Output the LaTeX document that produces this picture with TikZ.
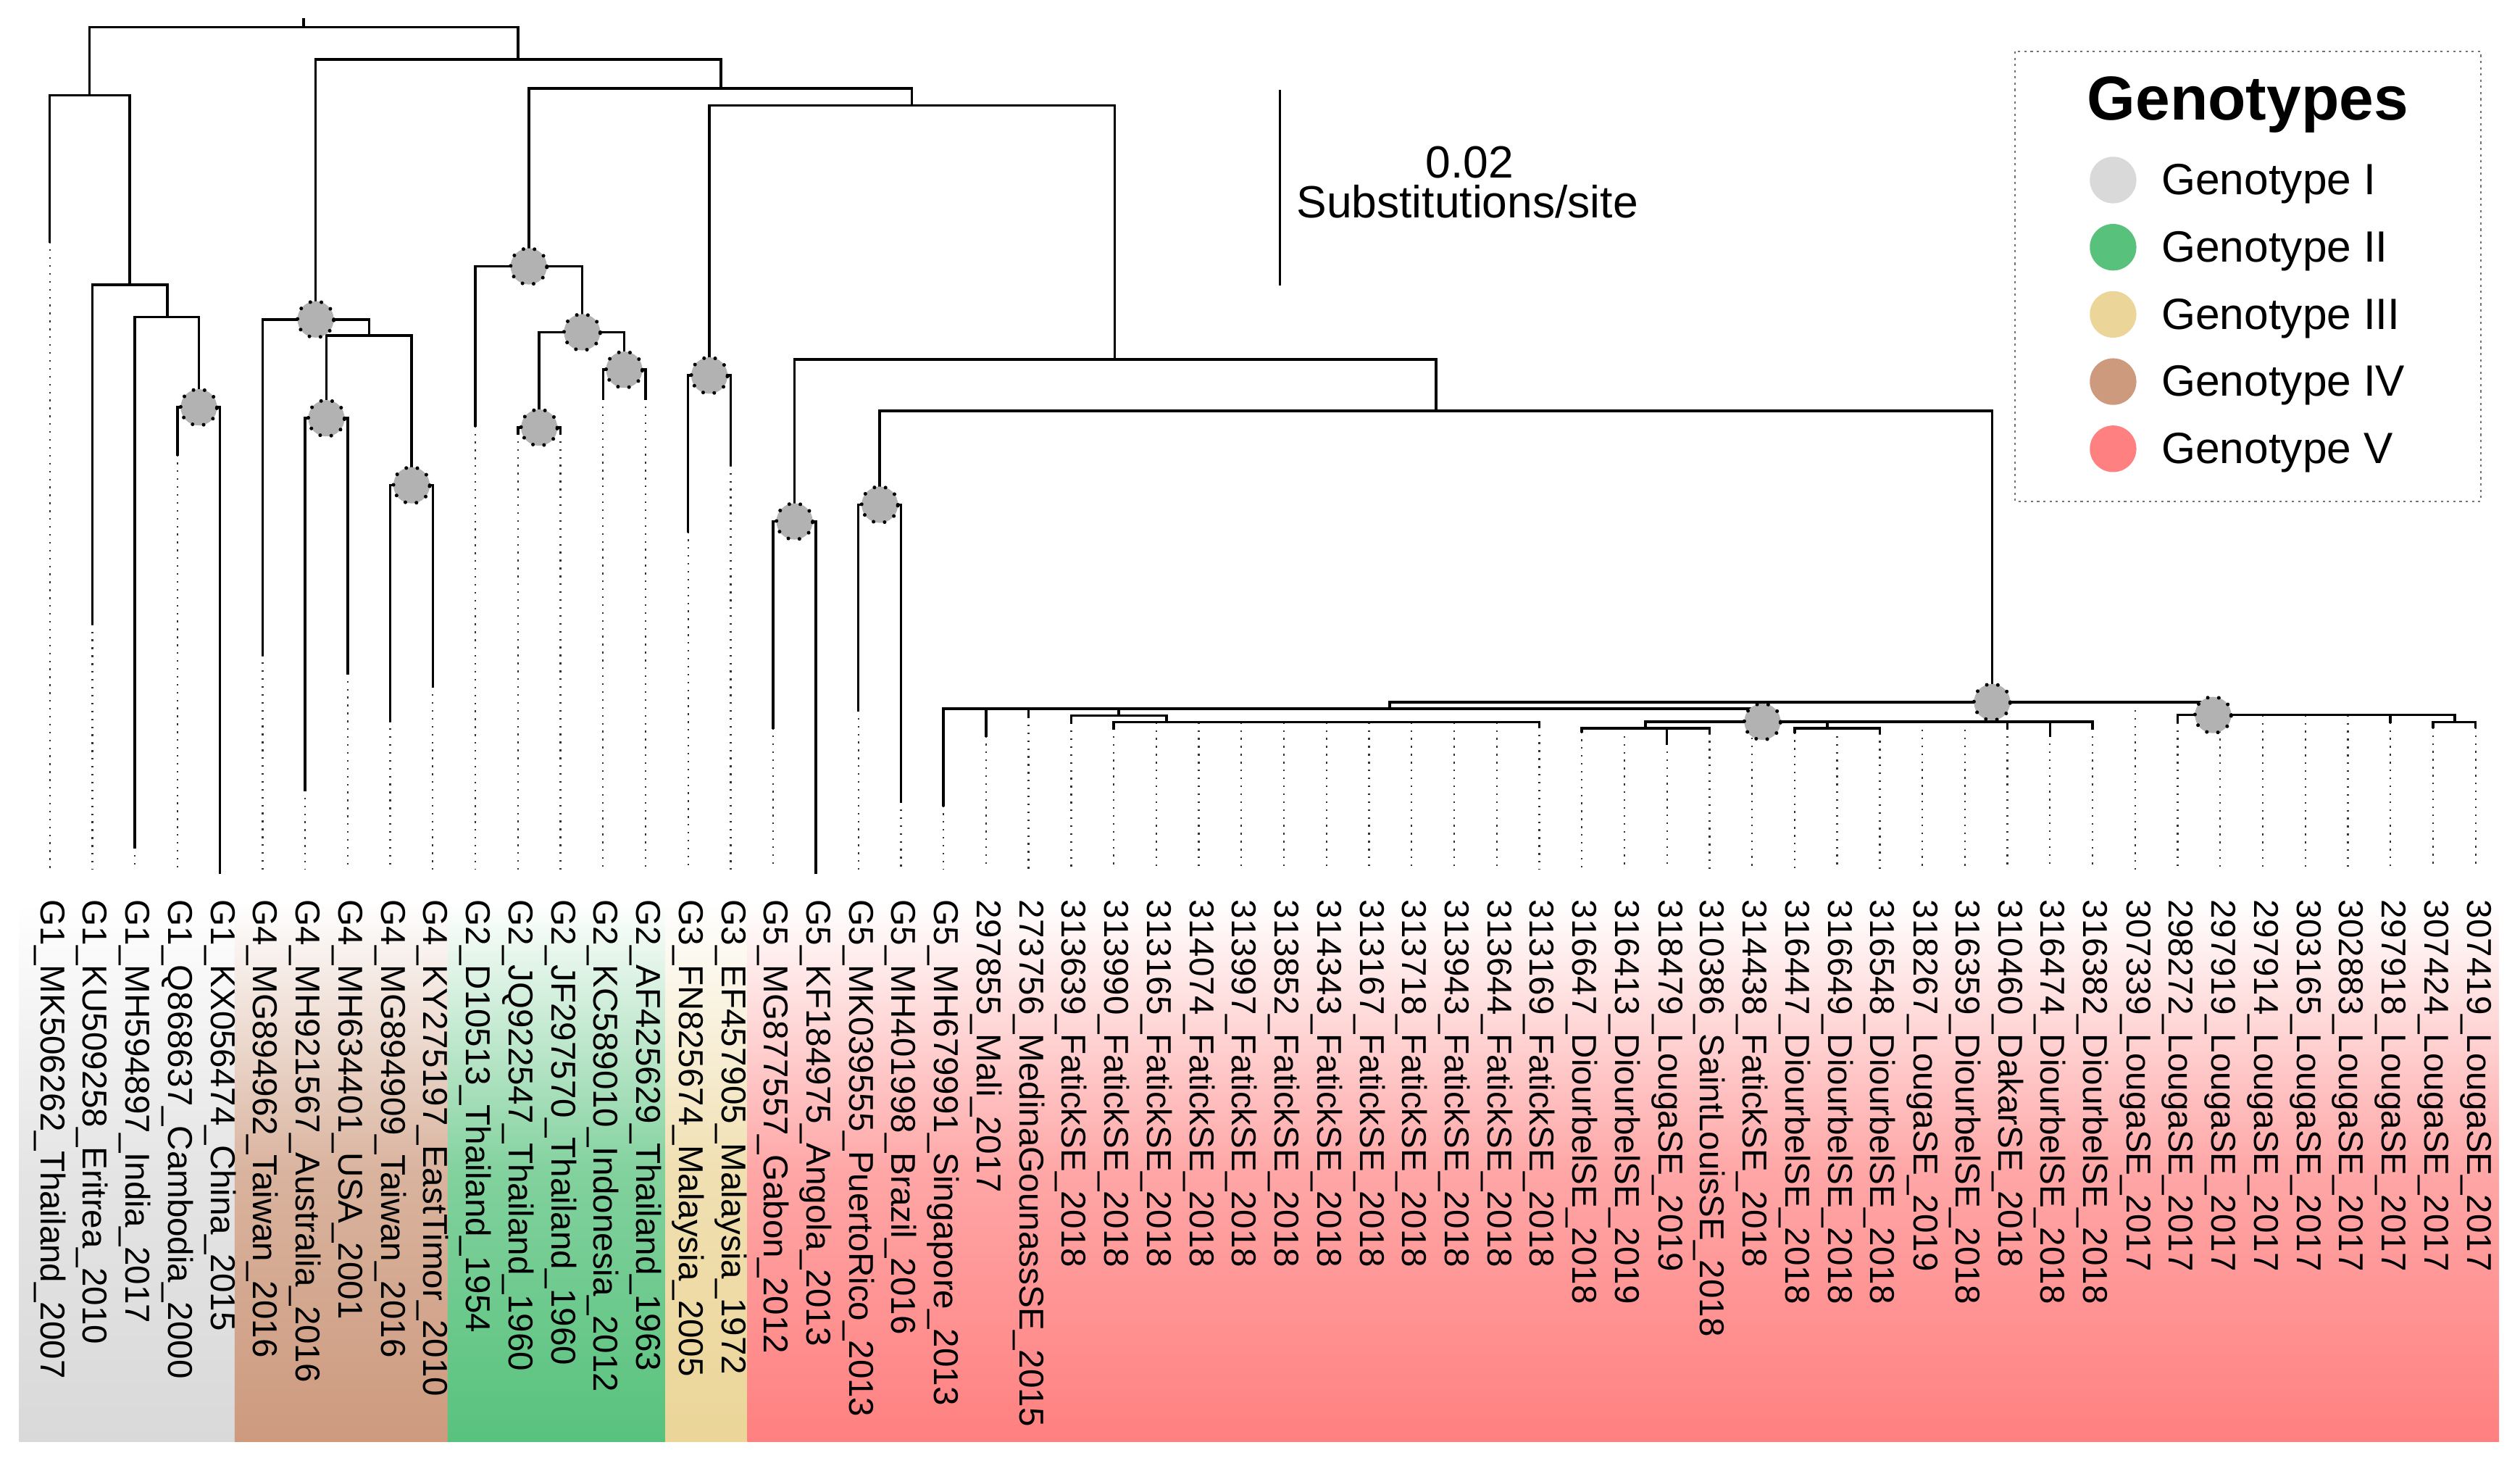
\documentclass[tikz,border=0pt]{standalone}
\usepackage{fontspec}
\setmainfont{Liberation Sans}
\usetikzlibrary{positioning}

\definecolor{gtI}{RGB}{217,217,217}
\definecolor{gtII}{RGB}{88,194,125}
\definecolor{gtIII}{RGB}{235,213,152}
\definecolor{gtIV}{RGB}{205,154,126}
\definecolor{gtV}{RGB}{255,128,128}
\def\unit{0.02}

\begin{document}
\begin{tikzpicture}[x=\unit cm, y=-\unit cm,
    branch/.style={line width=0.9pt, line cap=rect},
    trail/.style={line width=0.6pt, black!80, dash pattern=on 0.6pt off 2.2pt},
    support/.style={circle, minimum size=0.452cm, inner sep=0pt, fill=black!30, draw=black,
      line width=1.3pt, line cap=round, dash pattern=on 0pt off 4pt},
    tiplabel/.style={rotate=-90, anchor=west, inner sep=0pt, xshift=-0.07cm,
      font=\fontsize{12.2}{14}\selectfont},
    legendframe/.style={draw=black!55, line width=0.6pt, dash pattern=on 0.8pt off 1.4pt},
    legdot/.style={circle, minimum size=0.58cm, inner sep=0pt},
    legtext/.style={inner sep=0pt, font=\fontsize{15.5}{18}\selectfont}]
  \useasboundingbox (0,0) rectangle (1568,907);

  \shade[top color=white, bottom color=gtI, middle color=gtI!70] (12,561) rectangle (146,897);
  \shade[top color=white, bottom color=gtIV, middle color=gtIV!75] (146,561) rectangle (278.5,897);
  \shade[top color=white, bottom color=gtII, middle color=gtII!75] (278.5,561) rectangle (414,897);
  \shade[top color=white, bottom color=gtIII, middle color=gtIII!75] (414,561) rectangle (465,897);
  \shade[top color=white, bottom color=gtV, middle color=gtV!70] (465,561) rectangle (1555,897);

  \coordinate (trailend) at (0,541);
  \coordinate (labtop) at (0,563);

  \foreach \i/\y in {0/150.2, 1/388, 2/527, 3/282.8, 4/543, 5/407.2, 6/491.3, 7/418.7, 8/448.2,
      9/427, 10/264.9, 11/269.5, 12/269.5, 13/248, 14/248, 15/330.6, 16/289.3, 17/452.7,
      18/543, 19/441.7, 20/498.6, 21/501, 22/457.7, 23/445.8, 24/449.5, 25/453, 26/449.3,
      27/449.3, 28/449.3, 29/449.3, 30/449.3, 31/449.3, 32/449.3, 33/449.3, 34/449.3,
      35/452, 36/455, 37/453, 38/462.5, 39/456, 40/449, 41/455.5, 42/453, 43/456, 44/449,
      45/449, 46/453, 47/457.6, 48/453, 49/436.8, 50/449.3, 51/444.8, 52/444.8, 53/444.8,
      54/444.8, 55/449.3, 56/452.5, 57/452.5}
    \coordinate (t\i) at ({30.97+26.48*\i}, \y);

  \coordinate (rootstub) at (189,11.9);
  \coordinate (root) at (189,16.9);
  \coordinate (g1) at (55.7,59.3);
  \coordinate (g1a) at (80.7,177.2);
  \coordinate (g1b) at (104.1,197.3);
  \coordinate (g1c) at (123.7,253.4);
  \coordinate (rest) at (322.3,37);
  \coordinate (g4) at (196.4,198.7);
  \coordinate (g4a) at (229.6,208.8);
  \coordinate (g4b) at (203.1,260.2);
  \coordinate (g4c) at (256.1,301.9);
  \coordinate (core) at (448.5,55);
  \coordinate (g2) at (329,165.7);
  \coordinate (g2a) at (362.2,206.7);
  \coordinate (g2b) at (335.5,266);
  \coordinate (g2c) at (388.4,230);
  \coordinate (g35) at (567.3,65.6);
  \coordinate (g3) at (441.4,233.6);
  \coordinate (g5) at (693.6,223.6);
  \coordinate (g5a) at (494.4,324.4);
  \coordinate (g5b) at (893.6,255.7);
  \coordinate (g5c) at (547.4,314);
  \coordinate (sen) at (1239.5,436.8);
  \coordinate (sa) at (864.7,440.9);
  \coordinate (sd) at (696.1,445.1);
  \coordinate (sg) at (725.9,449.3);
  \coordinate (sc) at (1096.6,449);
  \coordinate (se) at (1023.8,453);
  \coordinate (sf) at (1137,453);
  \coordinate (sb) at (1377,444.8);
  \coordinate (sh) at (1527.4,449.3);

  \foreach \i in {0,...,57}
    \draw[trail] (t\i) -- (t\i |- trailend);

  \draw[branch] (rootstub) -- (root);
  \foreach \p/\c in {root/g1, root/rest, g1/t0, g1/g1a, g1a/t1, g1a/g1b, g1b/t2, g1b/g1c,
      g1c/t3, g1c/t4, rest/g4, rest/core, g4/t5, g4/g4a, g4a/g4b, g4a/g4c, g4b/t6, g4b/t7,
      g4c/t8, g4c/t9, core/g2, core/g35, g2/t10, g2/g2a, g2a/g2b, g2a/g2c, g2b/t11, g2b/t12,
      g2c/t13, g2c/t14, g35/g3, g35/g5, g3/t15, g3/t16, g5/g5a, g5/g5b, g5a/t17, g5a/t18,
      g5b/g5c, g5b/sen, g5c/t19, g5c/t20, sen/sa, sen/t49, sen/sb, sa/t21, sa/t22, sa/t23,
      sa/sd, sa/sc, sd/t24, sd/sg, sc/se, sc/t40, sc/sf, sc/t44, sc/t45, sc/t46, sc/t47,
      sc/t48, se/t36, se/t37, se/t38, se/t39, sf/t41, sf/t42, sf/t43, sb/t50, sb/t51, sb/t52,
      sb/t53, sb/t54, sb/t55, sb/sh, sh/t56, sh/t57}
    \draw[branch] (\p) -| (\c);
  \foreach \i in {25,...,35}
    \draw[branch] (sg) -| (t\i);

  \foreach \n in {g1c, g4, g4b, g4c, g2, g2a, g2b, g2c, g3, g5a, g5c, sen, sc, sb}
    \node[support] (c-\n) at (\n) {};

  \foreach \i/\lab in {0/G1\_MK506262\_Thailand\_2007, 1/G1\_KU509258\_Eritrea\_2010,
      2/G1\_MH594897\_India\_2017, 3/G1\_Q868637\_Cambodia\_2000, 4/G1\_KX056474\_China\_2015,
      5/G4\_MG894962\_Taiwan\_2016, 6/G4\_MH921567\_Australia\_2016, 7/G4\_MH634401\_USA\_2001,
      8/G4\_MG894909\_Taiwan\_2016, 9/G4\_KY275197\_EastTimor\_2010, 10/G2\_D10513\_Thailand\_1954,
      11/G2\_JQ922547\_Thailand\_1960, 12/G2\_JF297570\_Thailand\_1960,
      13/G2\_KC589010\_Indonesia\_2012, 14/G2\_AF425629\_Thailand\_1963,
      15/G3\_FN825674\_Malaysia\_2005, 16/G3\_EF457905\_Malaysia\_1972,
      17/G5\_MG877557\_Gabon\_2012, 18/G5\_KF184975\_Angola\_2013,
      19/G5\_MK039555\_PuertoRico\_2013, 20/G5\_MH401998\_Brazil\_2016,
      21/G5\_MH679991\_Singapore\_2013, 22/297855\_Mali\_2017,
      23/273756\_MedinaGounassSE\_2015, 24/313639\_FatickSE\_2018, 25/313990\_FatickSE\_2018,
      26/313165\_FatickSE\_2018, 27/314074\_FatickSE\_2018, 28/313997\_FatickSE\_2018,
      29/313852\_FatickSE\_2018, 30/314343\_FatickSE\_2018, 31/313167\_FatickSE\_2018,
      32/313718\_FatickSE\_2018, 33/313943\_FatickSE\_2018, 34/313644\_FatickSE\_2018,
      35/313169\_FatickSE\_2018, 36/316647\_DiourbelSE\_2018, 37/316413\_DiourbelSE\_2019,
      38/318479\_LougaSE\_2019, 39/310386\_SaintLouisSE\_2018, 40/314438\_FatickSE\_2018,
      41/316447\_DiourbelSE\_2018, 42/316649\_DiourbelSE\_2018, 43/316548\_DiourbelSE\_2018,
      44/318267\_LougaSE\_2019, 45/316359\_DiourbelSE\_2018, 46/310460\_DakarSE\_2018,
      47/316474\_DiourbelSE\_2018, 48/316382\_DiourbelSE\_2018, 49/307339\_LougaSE\_2017,
      50/298272\_LougaSE\_2017, 51/297919\_LougaSE\_2017, 52/297914\_LougaSE\_2017,
      53/303165\_LougaSE\_2017, 54/302883\_LougaSE\_2017, 55/297918\_LougaSE\_2017,
      56/307424\_LougaSE\_2017, 57/307419\_LougaSE\_2017}
    \node[tiplabel] (l\i) at (t\i |- labtop) {\lab};

  \coordinate (sbtop) at (796.3,56);
  \coordinate (sbbot) at (796.3,177.5);
  \draw[branch, line cap=butt] (sbtop) -- (sbbot);
  \node[inner sep=0pt, font=\fontsize{16}{18}\selectfont] (sblen) at (914.5,101) {0.02};
  \node[inner sep=0pt, font=\fontsize{16}{18}\selectfont] (sbunit) at (913,125.5) {Substitutions/site};

  \draw[legendframe] (1253.7,32) rectangle (1543.6,312);
  \node[inner sep=0pt, font=\bfseries\fontsize{22}{26}\selectfont] (legtitle) at (1398.6,65) {Genotypes};
  \foreach \col/\nm [count=\j] in {gtI/Genotype I, gtII/Genotype II, gtIII/Genotype III,
      gtIV/Genotype IV, gtV/Genotype V} {
    \node[legdot, fill=\col] (d\j) at (1314.8, {112+41.8*(\j-1)}) {};
    \node[legtext, right=0.3cm of d\j, yshift=-0.05cm] (n\j) {\nm};
  }
\end{tikzpicture}
\end{document}
